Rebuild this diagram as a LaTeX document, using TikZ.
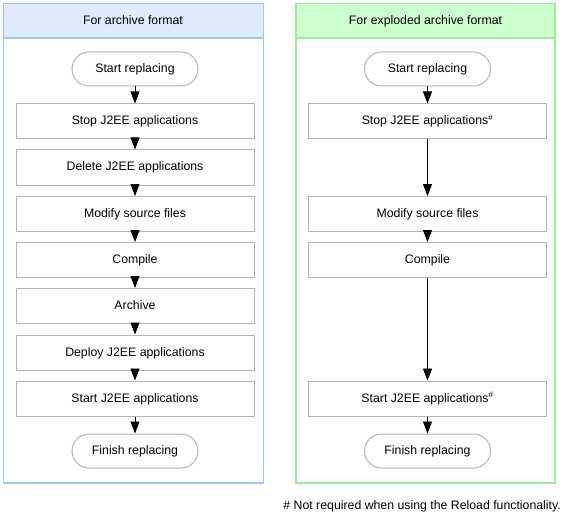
\documentclass[tikz,border=0pt]{standalone}
\usepackage{fontspec}
\setmainfont{Liberation Sans}
\usetikzlibrary{arrows.meta}
\definecolor{bluebd}{HTML}{9CC7FA}
\definecolor{bluefill}{HTML}{DDEBFD}
\definecolor{greenbd}{HTML}{99EE99}
\definecolor{greenfill}{HTML}{CCFFCC}
\definecolor{boxbd}{HTML}{B4B4B4}
\definecolor{shadowc}{HTML}{D2D2D2}
\tikzset{
  txt/.style={font=\fontsize{12.3pt}{14pt}\selectfont, text height=9pt, text depth=2pt},
  stepbox/.style={txt, draw=boxbd, line width=1pt, fill=white, minimum width=238pt, minimum height=35pt, inner sep=0pt},
  termbox/.style={txt, draw=boxbd, line width=1pt, fill=white, rounded corners=17pt, minimum width=126pt, minimum height=34pt, inner sep=0pt},
  flow/.style={draw=black, line width=0.9pt, -{Triangle[length=12pt,width=9pt]}},
  hdr/.style={txt, inner sep=0pt},
  panelbd/.style={line width=1.8pt},
}
\newcommand{\hsh}{\textsuperscript{\fontsize{8pt}{8pt}\selectfont\#}}
\begin{document}
\begin{tikzpicture}[x=1pt,y=-1pt]
\useasboundingbox (0,0) rectangle (565,516);
% left panel
\fill[bluefill] (3.5,3.5) rectangle (263.5,38);
\draw[bluebd, panelbd] (3.5,3.5) rectangle (263.5,483);
\draw[bluebd, panelbd] (3.5,38) -- (263.5,38);
\node[hdr] (lh) at (133,21) {For archive format};
% right panel
\fill[greenfill] (296,3.5) rectangle (555,38);
\draw[greenbd, panelbd] (296,3.5) rectangle (555,483);
\draw[greenbd, panelbd] (296,38) -- (555,38);
\node[hdr] (rh) at (425.5,21) {For exploded archive format};
% left flow
\node[termbox] (l1) at (135,69) {Start replacing};
\node[stepbox] (l2) at (135,121.5) {Stop J2EE applications};
\node[stepbox] (l3) at (135,167.5) {Delete J2EE applications};
\node[stepbox] (l4) at (135,214) {Modify source files};
\node[stepbox] (l5) at (135,260) {Compile};
\node[stepbox] (l6) at (135,306) {Archive};
\node[stepbox] (l7) at (135,352.5) {Deploy J2EE applications};
\node[stepbox] (l8) at (135,398.5) {Start J2EE applications};
\node[termbox] (l9) at (135,451) {Finish replacing};
\foreach \a/\b in {l1/l2,l2/l3,l3/l4,l4/l5,l5/l6,l6/l7,l7/l8,l8/l9}
  \draw[flow] (\a) -- (\b);
% right flow
\node[termbox] (r1) at (427.5,69) {Start replacing};
\node[stepbox] (r2) at (427.5,121.5) {Stop J2EE applications\hsh};
\node[stepbox] (r4) at (427.5,214) {Modify source files};
\node[stepbox] (r5) at (427.5,260) {Compile};
\node[stepbox] (r8) at (427.5,398.5) {Start J2EE applications\hsh};
\node[termbox] (r9) at (427.5,451) {Finish replacing};
\foreach \a/\b in {r1/r2,r2/r4,r4/r5,r5/r8,r8/r9}
  \draw[flow] (\a) -- (\b);
% footnote
\node[hdr, anchor=east] (fn) at (561,505.5) {\# Not required when using the Reload functionality.};
\end{tikzpicture}
\end{document}
